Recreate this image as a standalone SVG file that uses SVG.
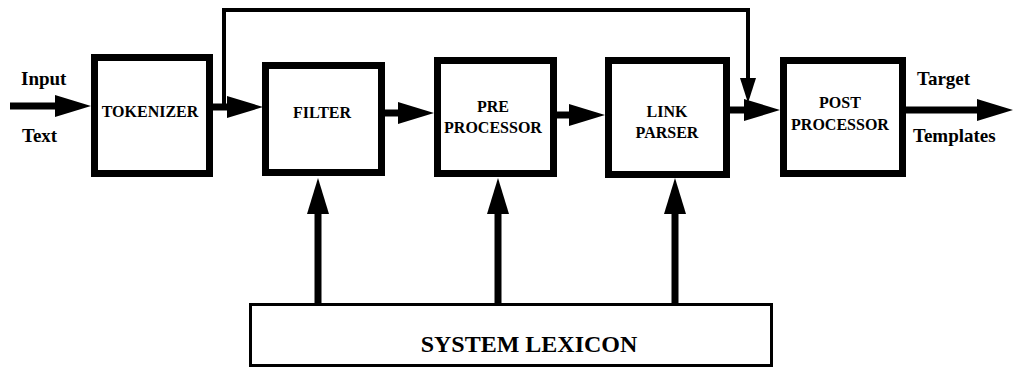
<svg xmlns="http://www.w3.org/2000/svg" width="1013" height="369" viewBox="0 0 1013 369">
  <style>
    .box { fill: #ffffff; stroke: #000000; stroke-width: 7; }
    .lex { fill: #ffffff; stroke: #000000; stroke-width: 3; }
    text { font-family: 'Liberation Serif', 'DejaVu Serif', serif; font-weight: bold; fill: #000000; }
    .lbl { font-size: 16px; text-anchor: middle; }
    .io { font-size: 19px; }
    .big { font-size: 24px; text-anchor: middle; }
    .thick { fill: none; stroke: #000000; stroke-width: 7; marker-end: url(#ah); }
    .thin { fill: none; stroke: #000000; stroke-width: 4; marker-end: url(#ahs); }
  </style>
  <defs>
    <marker id="ah" markerUnits="userSpaceOnUse" markerWidth="36" markerHeight="22" refX="0" refY="11" orient="auto" overflow="visible">
      <path d="M0,0 L36,11 L0,22 Z" fill="#000000"/>
    </marker>
    <marker id="ahs" markerUnits="userSpaceOnUse" markerWidth="25" markerHeight="16" refX="0" refY="8" orient="auto" overflow="visible">
      <path d="M0,0 L25,8 L0,16 Z" fill="#000000"/>
    </marker>
  </defs>

  <g id="connectors">
    <path class="thick" d="M10,106 H55"/>
    <path class="thick" d="M213,107 H227"/>
    <path class="thick" d="M385,113 H398"/>
    <path class="thick" d="M557,115 H569"/>
    <path class="thick" d="M730,110 H744"/>
    <path class="thick" d="M906,110 H977"/>
    <path class="thick" d="M318,303 V214"/>
    <path class="thick" d="M498,303 V214"/>
    <path class="thick" d="M675,303 V214"/>
    <path class="thin" d="M224,107 V10 H748 V78"/>
  </g>

  <g id="labels-io">
    <text class="io" x="21" y="85" font-family="Liberation Serif, serif">Input</text>
    <text class="io" x="22" y="142" font-family="Liberation Serif, serif">Text</text>
    <text class="io" x="917" y="85" font-family="Liberation Serif, serif">Target</text>
    <text class="io" x="913" y="142" font-family="Liberation Serif, serif">Templates</text>
  </g>

  <g id="tokenizer">
    <rect class="box" x="94.5" y="57.5" width="115" height="116"/>
    <text class="lbl" x="150" y="117">TOKENIZER</text>
  </g>
  <g id="filter">
    <rect class="box" x="265.5" y="65.5" width="116" height="107"/>
    <text class="lbl" x="322" y="118">FILTER</text>
  </g>
  <g id="preprocessor">
    <rect class="box" x="437.5" y="60.5" width="116" height="113"/>
    <text class="lbl" x="493" y="112">PRE</text>
    <text class="lbl" x="493" y="133">PROCESSOR</text>
  </g>
  <g id="linkparser">
    <rect class="box" x="608.5" y="60.5" width="118" height="114"/>
    <text class="lbl" x="667" y="117">LINK</text>
    <text class="lbl" x="667" y="138">PARSER</text>
  </g>
  <g id="postprocessor">
    <rect class="box" x="783.5" y="60.5" width="119" height="113"/>
    <text class="lbl" x="840" y="108">POST</text>
    <text class="lbl" x="840" y="130">PROCESSOR</text>
  </g>
  <g id="lexicon">
    <rect class="lex" x="250.5" y="304.5" width="521" height="61"/>
    <text class="big" x="529" y="352">SYSTEM LEXICON</text>
  </g>
</svg>
